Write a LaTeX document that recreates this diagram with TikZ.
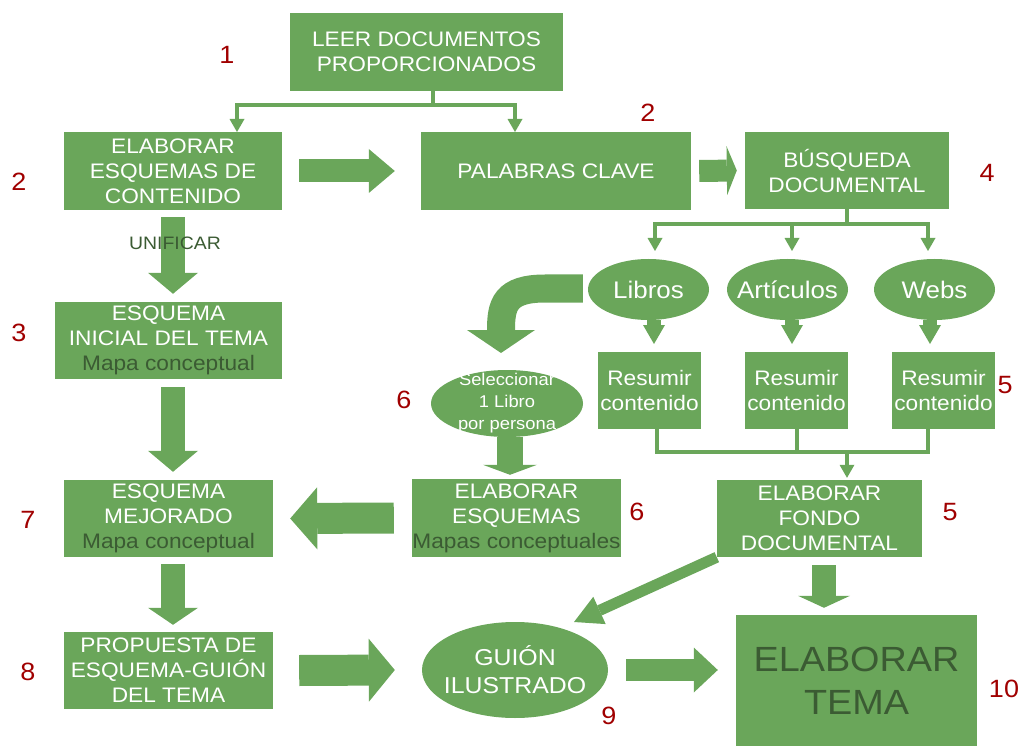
\documentclass[tikz,border=0pt]{standalone}
\usepackage{fontspec}
\setmainfont{Liberation Sans}[FakeStretch=1.08]
\usetikzlibrary{arrows.meta,shapes.geometric,calc}
\definecolor{gr}{HTML}{6AA65A}
\definecolor{rd}{HTML}{A00000}
\definecolor{dk}{HTML}{3B5B33}
\tikzset{
 box/.style={rectangle, fill=gr, text=white, inner sep=0pt, align=center, font=\fontsize{21}{25}\selectfont},
 oval/.style={ellipse, fill=gr, inner sep=0pt},
 ovaltext/.style={text=white, align=center, inner sep=0pt},
 num/.style={text=rd, font=\fontsize{25}{28}\selectfont, inner sep=0pt},
 thinline/.style={draw=gr, line width=4pt},
 thinarrow/.style={thinline, -{Triangle[width=15pt,length=13pt,line width=0pt]}},
 fat/.style n args={3}{draw=gr, line width=#1, -{Triangle[width=#2,length=#3,line width=0pt]}},
}
\begin{document}
\begin{tikzpicture}[x=1pt,y=-1pt]
\useasboundingbox (0,0) rectangle (1034,746);

% boxes
\node[box, minimum width=273pt, minimum height=78pt] (leer) at (426.5,52) {LEER DOCUMENTOS\\PROPORCIONADOS};
\node[box, minimum width=218pt, minimum height=78pt] (elab) at (173,171) {ELABORAR\\ESQUEMAS DE\\CONTENIDO};
\node[box, minimum width=270pt, minimum height=78pt] (pal) at (556,171) {PALABRAS CLAVE};
\node[box, minimum width=204pt, minimum height=77pt] (busq) at (847,170.5) {BÚSQUEDA\\DOCUMENTAL};
\node[box, minimum width=103pt, minimum height=77pt] (res1) at (649.5,390.5) {Resumir\\contenido};
\node[box, minimum width=103pt, minimum height=77pt] (res2) at (796.5,390.5) {Resumir\\contenido};
\node[box, minimum width=103pt, minimum height=77pt] (res3) at (943.5,390.5) {Resumir\\contenido};
\node[box, minimum width=205pt, minimum height=77pt] (fondo) at (819.5,518.5) {ELABORAR\\FONDO\\DOCUMENTAL};
\node[box, minimum width=241pt, minimum height=131pt, text=dk, font=\fontsize{35}{43}\selectfont] (tema) at (856.5,680.5) {ELABORAR\\TEMA};
\node[box, minimum width=227pt, minimum height=77pt] (inicial) at (168.5,340.5) {ESQUEMA\\INICIAL DEL TEMA\\\textcolor{dk}{Mapa conceptual}};
\node[box, minimum width=209pt, minimum height=77pt] (mejor) at (168.5,518.5) {ESQUEMA\\MEJORADO\\\textcolor{dk}{Mapa conceptual}};
\node[box, minimum width=209pt, minimum height=78pt] (esq) at (516.5,518) {ELABORAR\\ESQUEMAS\\\textcolor{dk}{Mapas conceptuales}};
\node[box, minimum width=209pt, minimum height=77pt] (prop) at (168.5,670.5) {PROPUESTA DE\\ESQUEMA-GUIÓN\\DEL TEMA};

% ellipses
\node[oval, minimum width=121pt, minimum height=61pt, label={[ovaltext, font=\fontsize{24}{28}\selectfont]center:Libros}] (libros) at (648.5,289.5) {};
\node[oval, minimum width=121pt, minimum height=61pt, label={[ovaltext, font=\fontsize{24}{28}\selectfont]center:Artículos}] (art) at (787.5,289.5) {};
\node[oval, minimum width=121pt, minimum height=61pt, label={[ovaltext, font=\fontsize{24}{28}\selectfont]center:Webs}] (webs) at (934.5,289.5) {};
\node[oval, minimum width=152pt, minimum height=67pt, label={[ovaltext, font=\fontsize{17}{22}\selectfont]center:{Seleccionar\\1 Libro\\por persona}}] (sel) at (507,403.5) {};
\node[oval, minimum width=186pt, minimum height=96pt, label={[ovaltext, font=\fontsize{23}{28}\selectfont]center:{GUIÓN\\ILUSTRADO}}] (guion) at (515,670) {};

% numbers
\node[num] (n1) at (227,55) {1};
\node[num] (n2a) at (19,182) {2};
\node[num] (n2b) at (648,113) {2};
\node[num] (n4) at (987,173) {4};
\node[num] (n3) at (19,333) {3};
\node[num] (n7) at (28,520) {7};
\node[num] (n8) at (28,672) {8};
\node[num] (n6a) at (404,400) {6};
\node[num] (n6b) at (637,512) {6};
\node[num] (n5a) at (1005,385) {5};
\node[num] (n5b) at (950,512) {5};
\node[num] (n9) at (609,716) {9};
\node[num] (n10) at (1004,689) {10};

% thin tree connectors
\coordinate (j1) at (433,105);
\coordinate (a1) at (237,132);
\coordinate (a2) at (515,132);
\draw[thinline] (leer.south -| j1) -- (j1);
\draw[thinarrow] (j1) -| (a1);
\draw[thinarrow] (j1) -| (a2);

\coordinate (j2) at (847,224);
\coordinate (b1) at (655,251);
\coordinate (b2) at (792,251);
\coordinate (b3) at (928,251);
\draw[thinline] (busq.south) -- (j2);
\draw[thinarrow] (j2) -| (b1);
\draw[thinarrow] (j2) -| (b2);
\draw[thinarrow] (j2) -| (b3);

\coordinate (r1) at (657,452);
\coordinate (r3) at (928,452);
\coordinate (j3) at (847,452);
\draw[thinline] (res1.south -| r1) -- (r1) -- (r3) -- (res3.south -| r3);
\draw[thinline] (res2.south) -- (res2.south |- r1);
\draw[thinarrow] (j3) -- ($(fondo.north -| j3)+(0,-2)$);

% small arrows ellipse -> resumir
\coordinate (k1) at (654,344);
\coordinate (k2) at (792,344);
\coordinate (k3) at (930,344);
\draw[fat={14pt}{22pt}{19pt}] (libros.south -| k1) -- (k1);
\draw[fat={14pt}{22pt}{19pt}] (art.south -| k2) -- (k2);
\draw[fat={14pt}{22pt}{19pt}] (webs.south -| k3) -- (k3);

% block arrows
\draw[fat={23pt}{44pt}{26pt}] ($(elab.east)+(17,0)$) -- ($(pal.west)+(-26,0)$);
\draw[fat={22pt}{49pt}{10pt}] ($(pal.east)+(8,0)$) -- ($(busq.west)+(-8,0)$);
\draw[fat={24pt}{50pt}{21pt}] ($(elab.south)+(0,7)$) -- ($(elab.south |- inicial.north)+(0,-8)$);
\node[text=dk, font=\fontsize{18}{20}\selectfont, inner sep=0pt] (unif) at (175,243) {UNIFICAR};
\draw[fat={24pt}{50pt}{21pt}] ($(elab.south |- inicial.south)+(0,8)$) -- ($(elab.south |- mejor.north)+(0,-8)$);
\draw[fat={24pt}{50pt}{17pt}] ($(elab.south |- mejor.south)+(0,7)$) -- ($(elab.south |- prop.north)+(0,-7)$);
\draw[fat={31pt}{63pt}{26pt}] ($(prop.east)+(26,0)$) -- ($(guion.west)+(-27,0)$);
\draw[fat={22pt}{45pt}{24pt}] ($(guion.east)+(18,0)$) -- ($(tema.west |- guion.east)+(-18,0)$);
\draw[fat={31pt}{62pt}{27pt}] ($(esq.west)+(-18,0)$) -- ($(mejor.east)+(17,0)$);
\draw[fat={24pt}{52pt}{12pt}] ($(fondo.south)+(4.5,8)$) -- ($(fondo.south |- tema.north)+(4.5,-7)$);
\draw[fat={26pt}{54pt}{10pt}] ($(sel.south)+(3,0)$) -- ($(sel.south |- esq.north)+(3,-4)$);
\coordinate (g1) at (574,622);
\draw[fat={11pt}{30pt}{28pt}] (fondo.south west) -- (g1);
\coordinate (c1) at (501,353);
\draw[fat={28pt}{68pt}{23pt}] ($(libros.west)+(-5,-1)$) -- (545,288.5) .. controls (505,288.5) and (501,305) .. (501,330) -- (c1);
\end{tikzpicture}
\end{document}
